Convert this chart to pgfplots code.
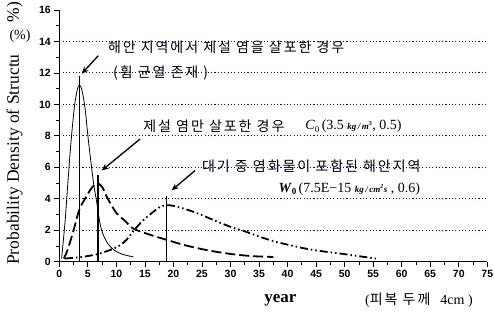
\documentclass[border=0pt]{standalone}
\usepackage{fontspec}
\setmainfont{Liberation Serif}
\newfontfamily\kr{Noto Sans CJK KR}[LetterSpace=14]
\newfontfamily\lsans{Liberation Sans}
\usepackage{pgfplots}
\pgfplotsset{compat=1.18}
\usetikzlibrary{arrows.meta}
\begin{document}
\begin{tikzpicture}[x=1pt,y=1pt]
\useasboundingbox (-59.3,-54.3) rectangle (434.7,261.7);
\begin{axis}[
  at={(0,0)}, anchor=south west,
  scale only axis, width=428pt, height=251.7pt,
  xmin=0, xmax=75, ymin=0, ymax=16,
  axis x line=bottom, axis y line=left,
  axis line style={-, line width=0.9pt},
  xtick={0,5,...,75}, ytick={0,2,...,16},
  minor x tick num=1, minor y tick num=1,
  tick align=outside,
  major tick length=5pt, minor tick length=3pt,
  every tick/.style={black, line width=0.8pt},
  /pgf/number format/assume math mode=true,
  tick label style={font=\lsans\bfseries\fontsize{10.5}{12}\selectfont},
  clip=false,
]
\pgfplotsinvokeforeach{2,4,...,14}{
  \draw[blue, line width=1.1pt, dash pattern=on 1.1pt off 2.2pt] (axis cs:0,#1) -- (axis cs:75,#1);
}
% curve 1: thin solid
\addplot[black, line width=0.8pt, smooth, tension=0.5] coordinates {
 (0.4,0.2) (1.0,2.5) (1.5,5.0) (2.07,7.7) (2.7,10.0) (3.2,11.0) (3.5,11.2) (3.9,11.0) (4.5,9.8) (5.1,7.7) (6.0,5.0) (6.6,3.7) (7.1,2.5) (7.6,1.8) (8.5,1.15) (9.6,0.74) (11,0.48) (13,0.3)
};
% curve 2: dashed
\addplot[black, line width=1.8pt, dash pattern=on 10pt off 4pt, smooth, tension=0.5] coordinates {
 (0.8,0.2) (1.5,0.8) (2.5,2.0) (3.5,3.3) (4.5,4.0) (5.5,4.6) (6.2,4.9) (6.9,4.95) (7.6,4.7) (8.5,4.0) (10,3.1) (11.5,2.6) (13,2.1) (16,1.7) (19,1.37) (22,1.05) (25,0.8) (28,0.6) (31,0.45) (34,0.35) (37.5,0.3)
};
% curve 3: dash dot dot
\addplot[black, line width=1.8pt, dash pattern=on 8pt off 3pt on 1.5pt off 3pt on 1.5pt off 3pt, smooth, tension=0.5] coordinates {
 (1,0.2) (4.3,0.32) (7.2,0.53) (10.2,0.95) (11.8,1.4) (13.1,2.0) (14.6,2.6) (16.1,3.06) (17.5,3.45) (18.7,3.59) (20,3.55) (22.5,3.3) (25,2.96) (28,2.5) (30.9,2.1) (32,2.0) (35,1.6) (37.9,1.27) (41,1.0) (43.9,0.78) (47,0.62) (49.8,0.49) (52.5,0.35) (55.5,0.2)
};
% vertical lines
\addplot[black, line width=1.4pt] coordinates {(3.5,0) (3.5,11.8)};
\addplot[black, line width=1.4pt] coordinates {(6.8,0) (6.8,5.5)};
\addplot[black, line width=1.4pt] coordinates {(18.8,0) (18.8,4.2)};
% arrows
\draw[-{Stealth[length=7pt,width=6pt]}, line width=1.3pt] (axis cs:6.84,13.1) -- (axis cs:3.93,11.95);
\draw[-{Stealth[length=7pt,width=6pt]}, line width=1.3pt] (axis cs:14.16,7.8) -- (axis cs:7.44,5.8);
\draw[-{Stealth[length=7pt,width=6pt]}, line width=1.3pt] (axis cs:23.8,5.8) -- (axis cs:19.7,4.54);
% texts
\node[anchor=west, inner sep=0pt, font=\kr\fontsize{14}{16}\selectfont] at (axis cs:8.5,13.65) {해안 지역에서 제설 염을 살포한 경우};
\node[anchor=west, inner sep=0pt, font=\kr\fontsize{14}{16}\selectfont] at (axis cs:9.4,12.0) {(휨 균열 존재 )};
\node[anchor=west, inner sep=0pt, font=\kr\fontsize{14}{16}\selectfont] at (axis cs:14.7,8.6) {제설 염만 살포한 경우};
\node[anchor=west, inner sep=0pt, font=\fontsize{14}{16}\selectfont] at (axis cs:43.1,8.6) {\textit{C}\raisebox{-0.35ex}{\fontsize{9}{9}\selectfont 0}\,(3.5 {\fontsize{9}{9}\selectfont\bfseries\itshape kg\,/\,m\textsuperscript{3}}, 0.5)};
\node[anchor=west, inner sep=0pt, font=\kr\fontsize{14}{16}\selectfont] at (axis cs:25,6.1) {대기 중 염화물이 포함된 해안지역};
\node[anchor=west, inner sep=0pt, font=\fontsize{14}{16}\selectfont] at (axis cs:38.4,4.6) {\textbf{\textit{W}}\raisebox{-0.35ex}{\fontsize{9}{9}\selectfont\bfseries 0}\,(7.5E\textminus15 {\fontsize{9}{9}\selectfont\bfseries\itshape kg\,/\,cm\textsuperscript{2}s} , 0.6)};
\end{axis}
% axis title texts
\node[font=\fontsize{17}{19}\selectfont\bfseries] at (221,-38.5) {year};
\node[anchor=west, inner sep=0pt] at (305.7,-38.5) {{\fontsize{14}{16}\selectfont(}{\kr\fontsize{14}{16}\selectfont 피복 두께}\hspace{10pt}{\fontsize{14}{16}\selectfont 4cm )}};
\node[rotate=90, anchor=base west, inner sep=0pt, font=\fontsize{17.5}{20}\selectfont] at (-40.3,-3.3) {Probability Density of Structu\hspace{32pt}\%)};
\node[font=\fontsize{14}{16}\selectfont] at (-39.3,225.7) {(\%)};
\end{tikzpicture}
\end{document}
